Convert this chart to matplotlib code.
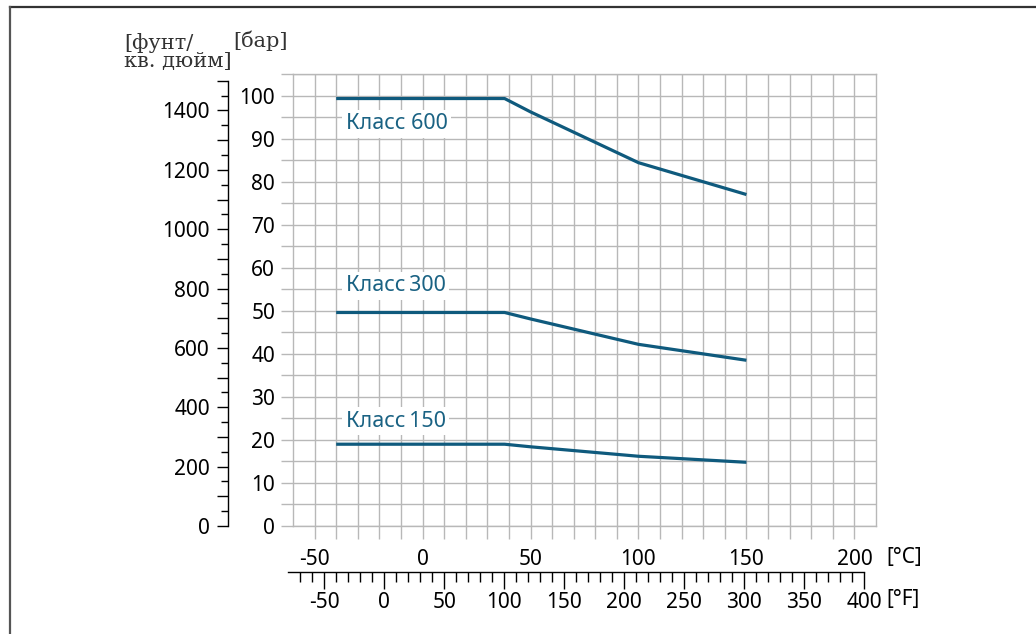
import matplotlib
matplotlib.use("Agg")
import matplotlib.pyplot as plt
from matplotlib.ticker import FixedLocator, FuncFormatter
from matplotlib.lines import Line2D

plt.rcParams['font.family'] = ['Noto Sans', 'DejaVu Sans']
plt.rcParams['axes.unicode_minus'] = False

# pressure/temperature ratings (bar) vs temperature (°C)
temp_c = [-40, 38, 50, 100, 150]
class600 = [99.3, 99.3, 96.2, 84.4, 77.0]
class300 = [49.6, 49.6, 48.1, 42.2, 38.5]
class150 = [19.0, 19.0, 18.4, 16.2, 14.8]
labels = ["Класс 600", "Класс\u2009300", "Класс\u2009150"]
label_y = [92.2, 54.5, 23.1]

W, H = 1036, 634
fig = plt.figure(figsize=(W / 100, H / 100), dpi=100)
ax = fig.add_axes([293 / W, (H - 526) / H, (876 - 293) / W, (526 - 74) / H])

line_col = '#0f5a7d'
grid_col = '#b8b8b8'

for vals in (class600, class300, class150):
    ax.plot(temp_c, vals, color=line_col, lw=2.3, solid_capstyle='butt', zorder=3)
for txt, yy in zip(labels, label_y):
    ax.text(-35.6, yy, txt, color='#1a6283', fontsize=15.5, va='baseline', ha='left',
            bbox=dict(facecolor='white', edgecolor='none', pad=2.5), zorder=4)

ax.set_xlim(-60, 210)
ax.set_ylim(0, 105)

ax.xaxis.set_major_locator(FixedLocator(range(-50, 201, 50)))
ax.xaxis.set_minor_locator(FixedLocator([v for v in range(-40, 200, 10) if v % 50]))
ax.yaxis.set_major_locator(FixedLocator(range(0, 101, 10)))
ax.yaxis.set_minor_locator(FixedLocator(range(5, 106, 10)))
ax.grid(which='both', color=grid_col, lw=1.0)
ax.set_axisbelow(True)
for s in ax.spines.values():
    s.set_color(grid_col)
    s.set_linewidth(1.0)
ax.tick_params(axis='x', which='both', direction='out', length=9.4, width=1.0,
               color=grid_col, pad=7, labelsize=15)
ax.tick_params(axis='y', which='both', direction='out', length=8.6, width=1.0,
               color=grid_col, pad=4.3, labelsize=15)

# psi axis
axp = ax.twinx()
axp.set_ylim(0, 105 * 14.5038)
for k in ('top', 'right', 'bottom'):
    axp.spines[k].set_visible(False)
axp.spines['left'].set_visible(True)
axp.spines['left'].set_position(('outward', 65 * 0.72))
axp.spines['left'].set_bounds(0, 1500)
axp.spines['left'].set_linewidth(1.0)
axp.yaxis.set_ticks_position('left')
axp.yaxis.set_major_locator(FixedLocator(range(0, 1501, 100)))
axp.yaxis.set_minor_locator(FixedLocator(range(50, 1500, 100)))
axp.yaxis.set_major_formatter(FuncFormatter(lambda v, p: f"{int(v)}" if v % 200 == 0 and v < 1500 else ""))
axp.tick_params(axis='y', which='major', length=8, width=1.0, pad=5, labelsize=15)
axp.tick_params(axis='y', which='minor', length=5, width=1.0)

# Fahrenheit axis
sec = ax.secondary_xaxis((526 - 571.7) / 452, functions=(lambda c: c * 9 / 5 + 32, lambda f: (f - 32) * 5 / 9))
sec.spines['bottom'].set_bounds(-80, 400)
sec.spines['bottom'].set_linewidth(1.0)
sec.xaxis.set_major_locator(FixedLocator(range(-50, 401, 50)))
sec.xaxis.set_minor_locator(FixedLocator([v for v in range(-80, 400, 10) if v % 50]))
sec.tick_params(axis='x', which='major', length=12, width=1.0, pad=2.5, labelsize=15)
sec.tick_params(axis='x', which='minor', length=7, width=1.0)

# unit labels
fig.text(886 / W, 1 - 557 / H, "[°C]", fontsize=15, va='center', ha='left')
fig.text(886 / W, 1 - 600 / H, "[°F]", fontsize=15, va='center', ha='left')
fig.text(124 / W, 1 - 67 / H, "[фунт/\nкв. дюйм]", family='DejaVu Serif', fontsize=15,
         va='baseline', ha='left', linespacing=0.95, color='#333333')
fig.text(233 / W, 1 - 47 / H, "[бар]", family='DejaVu Serif', fontsize=15,
         va='baseline', ha='left', color='#333333')

# outer frame
fig.add_artist(Line2D([10 / W, 1], [1 - 7 / H, 1 - 7 / H], transform=fig.transFigure, color='#333333', lw=1.6))
fig.add_artist(Line2D([10 / W, 10 / W], [1 - 7 / H, 0], transform=fig.transFigure, color='#555555', lw=1.6))

fig.savefig("out.png", dpi=100)
